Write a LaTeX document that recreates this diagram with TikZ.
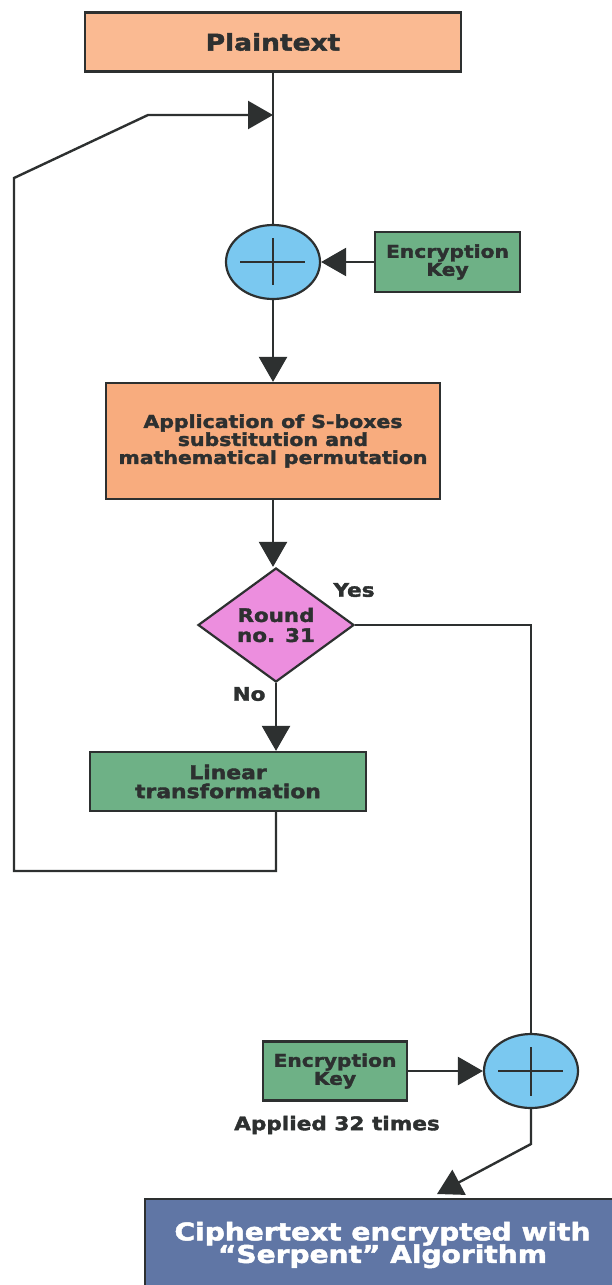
\documentclass[tikz,border=0pt]{standalone}
\usepackage{fontspec}
\setmainfont{DejaVu Sans}[FakeStretch=1.15, BoldFeatures={FakeBold=2}]
\usetikzlibrary{arrows.meta,shapes.geometric}
\definecolor{ink}{RGB}{45,48,48}
\definecolor{peach}{RGB}{250,186,146}
\definecolor{salmon}{RGB}{248,172,126}
\definecolor{sage}{RGB}{110,177,134}
\definecolor{sky}{RGB}{122,200,240}
\definecolor{orchid}{RGB}{236,142,222}
\definecolor{slate}{RGB}{96,118,165}
\setlength{\lineskiplimit}{-20pt}
\newcommand\fsz[2]{\bfseries\fontsize{#1}{#2}\selectfont}
\begin{document}
\begin{tikzpicture}[x=1pt,y=-1pt,
  text=ink,
  box/.style={draw=ink, line width=2.2pt, rectangle, inner sep=0pt, align=center},
  xorb/.style={draw=ink, line width=2.2pt, ellipse, fill=sky,
    minimum width=94pt, minimum height=74pt, inner sep=0pt},
  plus/.style={draw=ink, line width=2.6pt},
  flow/.style={draw=ink, line width=2.4pt},
  tip/.style={flow, -{Triangle[length=25pt,width=28pt]}},
  lbl/.style={font={\fsz{18.8}{20}}}
]
\fill[white] (0,0) rectangle (611,1285);
\useasboundingbox (0,0) rectangle (611,1285);

% boxes and decision
\node[box, fill=peach, minimum width=376pt, minimum height=59pt, font={\fsz{23}{26}}] (plain) at (273,42) {Plaintext};
\node[xorb] (xor1) at (273,262) {};
\node[box, fill=sage, minimum width=145pt, minimum height=60pt, font={\fsz{17.6}{18}}] (key1) at (447.5,262) {Encryption\\Key};
\node[box, fill=salmon, minimum width=334pt, minimum height=116pt, font={\fsz{17.8}{18}}] (sbox) at (273,441) {Application of S-boxes\\substitution and\\mathematical permutation};
\node[draw=ink, line width=2.2pt, diamond, fill=orchid, minimum width=156pt, minimum height=114pt,
  inner sep=0pt, align=center, font={\fsz{18.6}{20}}] (round) at (276,625) {Round\\no. 31};
\node[box, fill=sage, minimum width=276pt, minimum height=59pt, font={\fsz{19}{19}}] (linear) at (228,781.5) {Linear\\transformation};
\node[xorb] (xor2) at (531,1071) {};
\node[box, fill=sage, minimum width=144pt, minimum height=59pt, font={\fsz{17.6}{18}}] (key2) at (335,1071) {Encryption\\Key};
\node[box, fill=slate, text=white, minimum width=475pt, minimum height=92pt, font={\fsz{24.4}{22.5}}] (cipher) at (382.5,1245) {Ciphertext encrypted with\\“Serpent” Algorithm};

% labels
\node[lbl] (yes) at (354,590) {Yes};
\node[lbl] (no) at (249,694) {No};
\node[lbl] (applied) at (337,1125) {Applied 32 times};

% plus signs in the XOR circles
\draw[plus] ([xshift=-33pt]xor1.center) -- ([xshift=32pt]xor1.center);
\draw[plus] ([yshift=24pt]xor1.center) -- ([yshift=-23pt]xor1.center);
\draw[plus] ([xshift=-33pt]xor2.center) -- ([xshift=32pt]xor2.center);
\draw[plus] ([yshift=24pt]xor2.center) -- ([yshift=-25pt]xor2.center);

% helper points of the round loop and the output
\coordinate (loopA) at (14,871);
\coordinate (loopB) at (14,178);
\coordinate (loopC) at (148,115);
\coordinate (join) at (plain.south |- loopC);
\coordinate (bend) at (531,1144);
\coordinate (ctip) at (437,1194);

% connectors
\draw[flow] (plain.south) -- (xor1.north);
\draw[tip] (key1.west) -- (xor1.east);
\draw[tip] (xor1.south) -- (sbox.north);
\draw[tip] (sbox.south) -- (sbox.south |- round.north);
\draw[tip] (round.south) -- (round.south |- linear.north);
\draw[tip] (round.south |- linear.south) |- (loopA) -- (loopB) -- (loopC) -- (join);
\draw[flow] (round.east) -| (xor2.north);
\draw[tip] (key2.east) -- (xor2.west);
\draw[tip] (xor2.south) -- (bend) -- (ctip);
\end{tikzpicture}
\end{document}
